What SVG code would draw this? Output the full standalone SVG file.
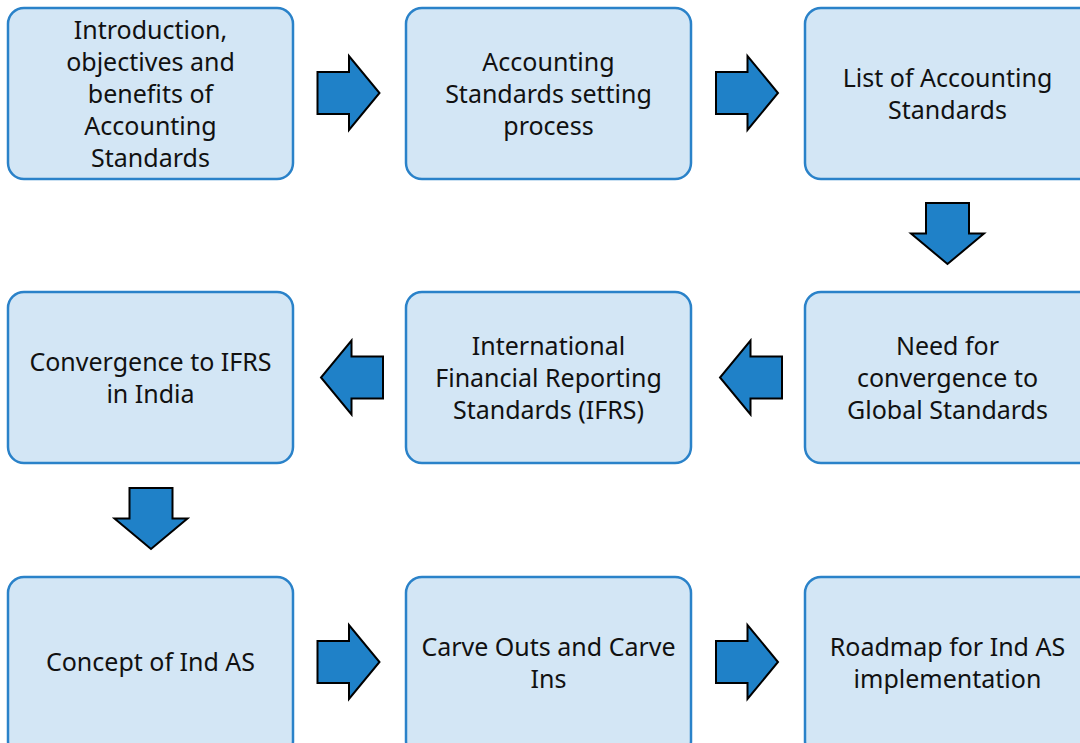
<svg xmlns="http://www.w3.org/2000/svg" width="1080" height="743" viewBox="0 0 1080 743">
<style>
.box{fill:#d3e6f5;stroke:#2a82c9;stroke-width:2.5}
.arr{fill:#1f81c8;stroke:#000;stroke-width:2;stroke-linejoin:miter}
text{font-family:"Noto Sans","Open Sans","DejaVu Sans",sans-serif;font-size:25px;fill:#111;text-anchor:middle}
</style>
<defs>
<path id="ar" d="M0,16 H31.5 V0 L62,37 L31.5,74 V58 H0 Z"/>
<path id="ad" d="M15,0 H58 V30.5 H73 L36.5,61 L0,30.5 H15 Z"/>
</defs>
<rect width="1080" height="743" fill="#fff"/>
<g id="n1"><rect class="box" x="8" y="8" width="285" height="171" rx="16"/>
<text x="150.5" y="39">Introduction,</text><text x="150.5" y="71">objectives and</text><text x="150.5" y="103">benefits of</text><text x="150.5" y="135">Accounting</text><text x="150.5" y="167">Standards</text></g>
<g id="n2"><rect class="box" x="406" y="8" width="285" height="171" rx="16"/>
<text x="548.5" y="71">Accounting</text><text x="548.5" y="103">Standards setting</text><text x="548.5" y="135">process</text></g>
<g id="n3"><rect class="box" x="805" y="8" width="290" height="171" rx="16"/>
<text x="947.5" y="87">List of Accounting</text><text x="947.5" y="119">Standards</text></g>
<g id="n4"><rect class="box" x="805" y="292" width="290" height="171" rx="16"/>
<text x="947.5" y="355">Need for</text><text x="947.5" y="387">convergence to</text><text x="947.5" y="419">Global Standards</text></g>
<g id="n5"><rect class="box" x="406" y="292" width="285" height="171" rx="16"/>
<text x="548.5" y="355">International</text><text x="548.5" y="387">Financial Reporting</text><text x="548.5" y="419">Standards (IFRS)</text></g>
<g id="n6"><rect class="box" x="8" y="292" width="285" height="171" rx="16"/>
<text x="150.5" y="371">Convergence to IFRS</text><text x="150.5" y="403">in India</text></g>
<g id="n7"><rect class="box" x="8" y="577" width="285" height="180" rx="16"/>
<text x="150.5" y="671">Concept of Ind AS</text></g>
<g id="n8"><rect class="box" x="406" y="577" width="285" height="180" rx="16"/>
<text x="548.5" y="656">Carve Outs and Carve</text><text x="548.5" y="688">Ins</text></g>
<g id="n9"><rect class="box" x="805" y="577" width="290" height="180" rx="16"/>
<text x="947.5" y="656">Roadmap for Ind AS</text><text x="947.5" y="688">implementation</text></g>
<g id="connectors">
<use href="#ar" class="arr" x="317.5" y="56"/>
<use href="#ar" class="arr" x="716" y="56"/>
<use href="#ad" class="arr" x="911" y="203"/>
<use href="#ar" class="arr" transform="translate(782,414.5) scale(-1,-1)"/>
<use href="#ar" class="arr" transform="translate(383,414.5) scale(-1,-1)"/>
<use href="#ad" class="arr" x="114.5" y="488"/>
<use href="#ar" class="arr" x="317.5" y="625"/>
<use href="#ar" class="arr" x="716" y="625"/>
</g>
</svg>
